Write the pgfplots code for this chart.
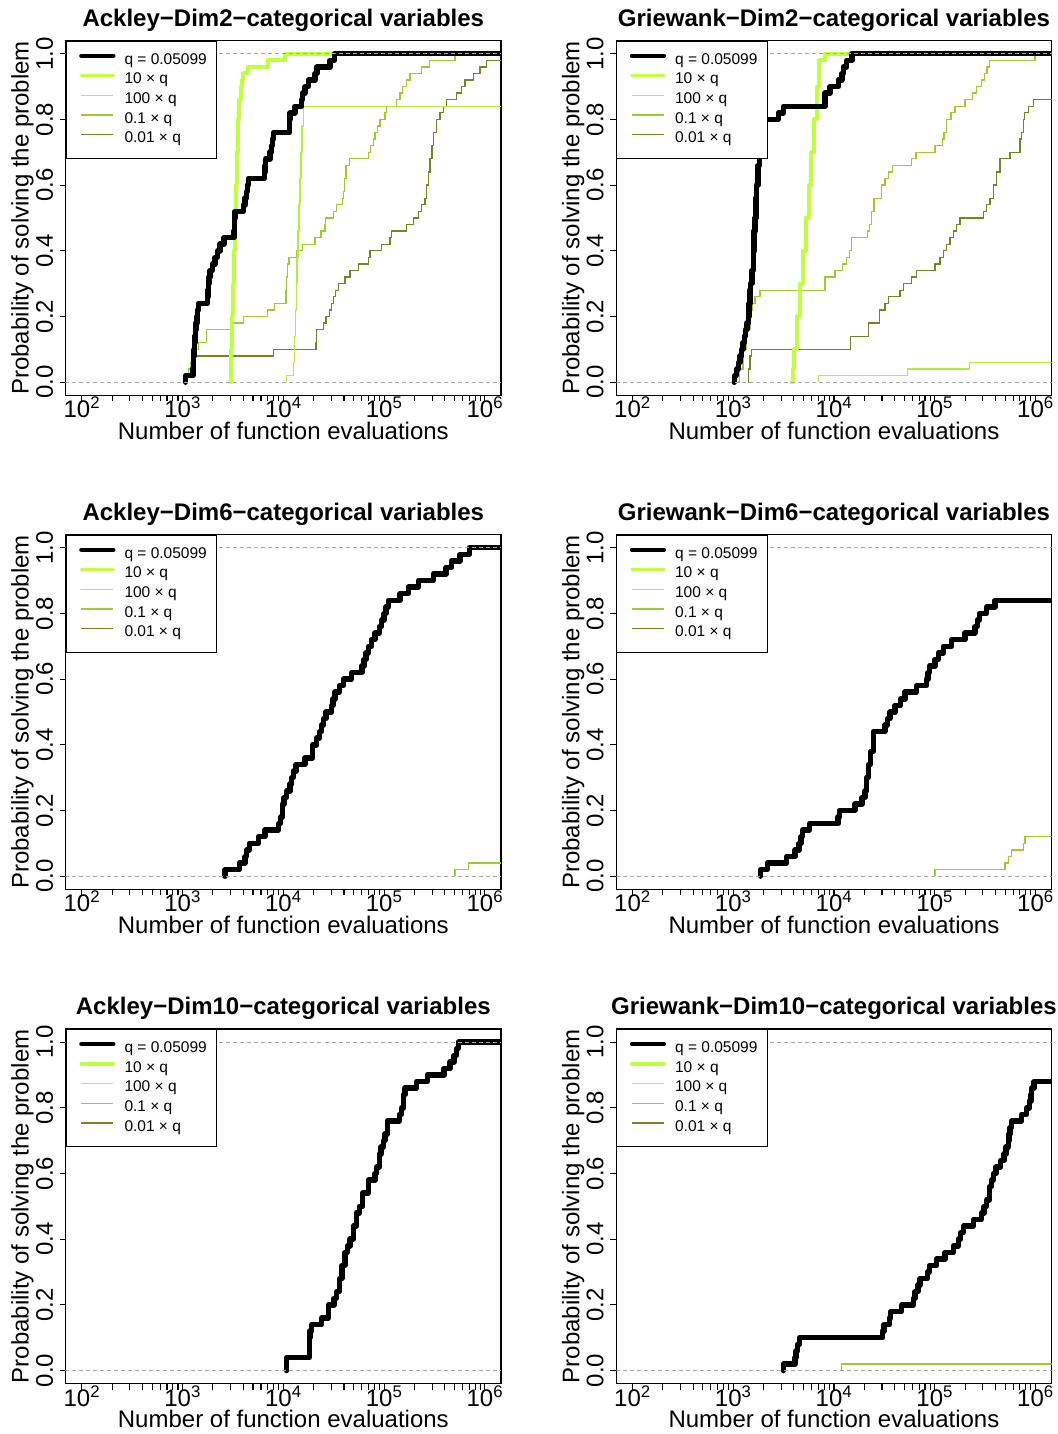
\documentclass[border=0pt]{standalone}
\usepackage{fontspec}
\setmainfont{Liberation Sans}
\usepackage{pgfplots}
\pgfplotsset{compat=1.18}
\definecolor{cA}{HTML}{C0FF3E}
\definecolor{cB}{HTML}{B3EE3A}
\definecolor{cC}{HTML}{9ACD32}
\definecolor{cD}{HTML}{698B22}
\pgfplotsset{
  sQ/.style={black, line width=5.5pt, line cap=round, line join=round, const plot},
  sA/.style={cA, line width=4pt, line cap=round, line join=round, const plot},
  sB/.style={cB, line width=1.3pt, const plot},
  sC/.style={cC, line width=1.3pt, const plot},
  sD/.style={cD, line width=1.3pt, const plot},
  dl/.style={forget plot, black!35, line width=1pt, dash pattern=on 4pt off 3pt},
  legend image code/.code={\draw[#1] (3pt,4.5pt) -- (35pt,4.5pt); \path (0pt,0pt) (44pt,0pt);},
  every axis/.append style={
    scale only axis, width=435.3pt, height=354.7pt,
    xmode=log, xmin=69.18, xmax=1445440, ymin=-0.04, ymax=1.04,
    axis line style={line width=1.1pt, black},
    every tick/.style={black, line width=1.1pt},
    tick align=outside, major tick length=6pt, minor tick length=6pt,
    xtick pos=bottom, ytick pos=left,
    xtick={100,1000,10000,100000,1000000},
    xticklabels={10\textsuperscript{2},10\textsuperscript{3},10\textsuperscript{4},10\textsuperscript{5},10\textsuperscript{6}},
    minor xtick={200,300,400,500,600,700,800,900,2000,3000,4000,5000,6000,7000,8000,9000,20000,30000,40000,50000,60000,70000,80000,90000,200000,300000,400000,500000,600000,700000,800000,900000},
    ytick={0,0.2,0.4,0.6,0.8,1},
    yticklabels={0.0,0.2,0.4,0.6,0.8,1.0},
    tick label style={font=\fontsize{24}{28}\selectfont},
    xticklabel style={anchor=base, inner sep=0pt},
    xticklabel shift=16.7pt,
    yticklabel style={rotate=90, anchor=south, inner sep=0pt},
    yticklabel shift=6.4pt,
    xlabel={Number of function evaluations},
    ylabel={Probability of solving the problem},
    legend cell align=left,
    legend style={at={(0,1)}, anchor=north west, draw=black, line width=1pt, fill=white,
      font=\fontsize{15.5}{18}\selectfont, inner xsep=10pt, inner ysep=12pt, row sep=5.2pt,
      nodes={inner sep=0pt, text height=11pt, text depth=3.5pt}},
  },
  every axis x label/.style={at={(axis description cs:0.5,0)}, yshift=-35.5pt, anchor=center, font=\fontsize{24}{28}\selectfont},
  every axis y label/.style={at={(axis description cs:0,0.5)}, xshift=-43.2pt, rotate=90, anchor=center, font=\fontsize{24}{28}\selectfont},
  every axis title/.style={at={(axis description cs:0.5,1)}, yshift=14pt, anchor=base, font=\bfseries\fontsize{24}{28}\selectfont},
}
\newcommand{\mylegend}{%
  \addlegendimage{black, line width=4.3pt, line cap=round}\addlegendentry{q = 0.05099}
  \addlegendimage{cA, line width=3.7pt, line cap=round}\addlegendentry{10 × q}
  \addlegendimage{cB, line width=1.3pt}\addlegendentry{100 × q}
  \addlegendimage{cC, line width=1.3pt}\addlegendentry{0.1 × q}
  \addlegendimage{cD, line width=1.3pt}\addlegendentry{0.01 × q}
}
\newcommand{\refl}{%
  \addplot[dl] coordinates {(50,0) (3e6,0)};
  \addplot[dl] coordinates {(50,1) (3e6,1)};
}
\begin{document}
\begin{tikzpicture}
\path[use as bounding box] (0,0) rectangle (1057pt,1434pt);

% ---------- Panel 1: Ackley Dim2
\begin{axis}[at={(65.7pt,1038.7pt)}, anchor=south west, title={Ackley−Dim2−categorical variables}]
\mylegend
\addplot[forget plot, sD] coordinates {(1100,0)(1100,0.02)(1200,0.04)(1280,0.06)(1330,0.08)(7950,0.10)(21100,0.12)(21440,0.16)(24950,0.18)(26500,0.20)(28600,0.22)(30000,0.24)(31300,0.26)(33000,0.28)(35100,0.30)(40900,0.32)(45900,0.34)(55500,0.36)(69700,0.38)(72400,0.40)(94600,0.42)(114500,0.44)(119000,0.46)(167500,0.48)(195000,0.50)(218500,0.52)(236000,0.54)(254700,0.56)(265000,0.60)(275000,0.64)(286000,0.68)(298000,0.72)(308000,0.76)(333000,0.80)(359000,0.82)(387000,0.84)(418000,0.86)(526000,0.88)(590000,0.90)(636000,0.92)(768000,0.94)(895000,0.96)(1042000,0.98)(3e6,0.98)};
\addplot[forget plot, sC] coordinates {(1097,0)(1097,0.02)(1150,0.04)(1200,0.06)(1278,0.08)(1350,0.10)(1432,0.12)(1734,0.16)(3069,0.18)(4006,0.20)(6987,0.22)(8132,0.24)(10620,0.28)(10800,0.32)(11000,0.36)(11380,0.38)(13550,0.40)(15540,0.42)(20590,0.44)(23620,0.46)(25880,0.48)(26300,0.50)(31330,0.52)(33810,0.54)(38750,0.56)(39380,0.58)(40500,0.62)(41860,0.66)(45150,0.68)(69740,0.70)(73530,0.72)(78100,0.74)(81100,0.76)(86000,0.78)(90980,0.80)(102000,0.82)(106000,0.84)(133100,0.86)(143600,0.88)(152700,0.90)(167200,0.92)(180600,0.94)(235700,0.96)(280500,0.98)(504700,1.0)(3e6,1.0)};
\addplot[forget plot, sB] coordinates {(10790,0)(10790,0.02)(12560,0.06)(12900,0.14)(13200,0.22)(13450,0.30)(13700,0.38)(14000,0.46)(14300,0.54)(14600,0.62)(14950,0.70)(15350,0.78)(15780,0.84)(3e6,0.84)};
\addplot[forget plot, sA] coordinates {(2953,0)(3025,0.1)(3100,0.2)(3180,0.3)(3240,0.4)(3311,0.5)(3390,0.6)(3480,0.7)(3574,0.8)(3660,0.86)(3768,0.9)(3880,0.92)(4006,0.94)(4487,0.96)(7000,0.98)(10376,1.0)(3e6,1.0)};
\addplot[forget plot, sQ] coordinates {(1074,0)(1074,0.02)(1270,0.04)(1280,0.06)(1290,0.08)(1300,0.10)(1315,0.12)(1330,0.14)(1345,0.16)(1365,0.18)(1385,0.20)(1405,0.22)(1432,0.24)(1765,0.26)(1780,0.28)(1799,0.30)(1830,0.32)(1871,0.34)(1972,0.36)(2099,0.38)(2213,0.40)(2351,0.42)(2576,0.44)(3236,0.46)(3260,0.48)(3285,0.50)(3311,0.52)(4006,0.54)(4169,0.56)(4327,0.58)(4400,0.60)(4487,0.62)(6471,0.64)(6580,0.66)(6683,0.68)(7375,0.70)(7663,0.72)(7800,0.74)(7951,0.76)(11446,0.78)(11540,0.80)(11641,0.82)(13053,0.84)(15205,0.86)(15564,0.88)(16433,0.90)(17738,0.92)(20616,0.94)(21461,0.96)(29030,0.98)(32030,1.0)(3e6,1.0)};
\refl
\end{axis}

% ---------- Panel 2: Griewank Dim2
\begin{axis}[at={(616.3pt,1038.7pt)}, anchor=south west, title={Griewank−Dim2−categorical variables}]
\mylegend
\addplot[forget plot, sD] coordinates {(1400,0)(1413,0.04)(1470,0.08)(1520,0.10)(14650,0.14)(21930,0.18)(28180,0.22)(32130,0.24)(34660,0.26)(45290,0.28)(48890,0.30)(59130,0.32)(66270,0.34)(100600,0.36)(112800,0.38)(121700,0.40)(131500,0.42)(141900,0.44)(153100,0.46)(165400,0.48)(178600,0.50)(304100,0.52)(328300,0.54)(354300,0.56)(382400,0.60)(410000,0.64)(444900,0.68)(558700,0.70)(703100,0.74)(729900,0.76)(758100,0.80)(780000,0.82)(850500,0.84)(953900,0.86)(3e6,0.86)};
\addplot[forget plot, sC] coordinates {(1125,0)(1150,0.04)(1250,0.10)(1350,0.16)(1468,0.22)(1550,0.24)(1645,0.26)(1845,0.28)(8170,0.32)(10260,0.34)(12220,0.36)(13390,0.38)(14200,0.40)(15020,0.44)(21490,0.46)(22500,0.48)(23500,0.52)(25020,0.56)(29790,0.60)(32150,0.62)(35000,0.64)(38360,0.66)(59160,0.68)(65330,0.70)(100900,0.72)(119400,0.74)(124000,0.76)(131800,0.80)(145000,0.82)(159400,0.84)(200300,0.86)(238600,0.88)(261300,0.90)(293000,0.92)(311800,0.94)(330000,0.96)(349400,0.98)(990800,1.0)(3e6,1.0)};
\addplot[forget plot, sB] coordinates {(6998,0)(6998,0.02)(53460,0.04)(220300,0.06)(3e6,0.06)};
\addplot[forget plot, sA] coordinates {(3805,0)(3900,0.04)(4055,0.10)(4325,0.20)(4613,0.30)(4920,0.40)(5248,0.50)(5598,0.60)(5971,0.70)(6368,0.80)(6792,0.90)(7161,0.98)(8170,1.0)(3e6,1.0)};
\addplot[forget plot, sQ] coordinates {(1026,0)(1030,0.02)(1080,0.04)(1125,0.06)(1170,0.08)(1214,0.10)(1250,0.12)(1290,0.14)(1330,0.16)(1370,0.18)(1413,0.20)(1440,0.24)(1470,0.28)(1490,0.30)(1530,0.34)(1585,0.40)(1615,0.46)(1645,0.50)(1680,0.56)(1710,0.60)(1760,0.66)(1817,0.70)(1860,0.74)(1918,0.76)(1980,0.78)(2050,0.80)(2808,0.82)(3150,0.84)(8170,0.88)(9160,0.90)(11070,0.92)(11950,0.94)(12410,0.96)(13390,0.98)(15020,1.0)(3e6,1.0)};
\refl
\end{axis}

% ---------- Panel 3: Ackley Dim6
\begin{axis}[at={(65.7pt,544.7pt)}, anchor=south west, title={Ackley−Dim6−categorical variables}]
\mylegend
\addplot[forget plot, sC] coordinates {(505800,0)(505800,0.02)(685900,0.04)(3e6,0.04)};
\addplot[forget plot, sQ] coordinates {(2636,0)(2636,0.02)(3656,0.04)(4168,0.06)(4327,0.08)(4592,0.10)(5640,0.12)(6572,0.14)(8906,0.16)(9400,0.18)(9855,0.22)(10170,0.24)(10800,0.26)(11650,0.28)(12100,0.30)(12570,0.32)(13360,0.34)(16410,0.36)(19550,0.40)(21420,0.42)(22750,0.44)(24040,0.46)(24960,0.48)(26520,0.50)(30170,0.52)(31000,0.54)(32580,0.56)(36000,0.58)(39430,0.60)(47690,0.62)(60000,0.64)(63140,0.66)(66000,0.68)(69700,0.70)(75000,0.72)(81200,0.74)(90000,0.76)(94600,0.78)(99800,0.80)(104400,0.82)(110200,0.84)(143900,0.86)(173900,0.88)(218500,0.90)(307500,0.92)(411500,0.94)(468500,0.96)(566000,0.98)(701000,1.0)(3e6,1.0)};
\refl
\end{axis}

% ---------- Panel 4: Griewank Dim6
\begin{axis}[at={(616.3pt,544.7pt)}, anchor=south west, title={Griewank−Dim6−categorical variables}]
\mylegend
\addplot[forget plot, sC] coordinates {(100600,0)(100600,0.02)(498800,0.04)(538500,0.06)(581000,0.08)(758100,0.10)(787300,0.12)(3e6,0.12)};
\addplot[forget plot, sQ] coordinates {(1875,0)(1875,0.02)(2181,0.04)(3397,0.06)(4105,0.08)(4500,0.10)(4700,0.12)(4890,0.14)(5698,0.16)(11000,0.18)(11300,0.20)(16170,0.22)(19000,0.24)(20330,0.26)(21000,0.30)(21930,0.34)(23000,0.38)(24570,0.44)(32120,0.46)(33860,0.48)(35990,0.50)(40360,0.52)(46000,0.54)(50720,0.56)(66260,0.58)(83240,0.60)(86000,0.62)(88390,0.64)(100600,0.66)(108600,0.68)(121700,0.70)(147500,0.72)(199900,0.74)(251300,0.76)(265000,0.78)(277400,0.80)(328300,0.82)(396500,0.84)(3e6,0.84)};
\refl
\end{axis}

% ---------- Panel 5: Ackley Dim10
\begin{axis}[at={(65.7pt,50.3pt)}, anchor=south west, title={Ackley−Dim10−categorical variables}]
\mylegend
\addplot[forget plot, sQ] coordinates {(10790,0)(10790,0.04)(18120,0.10)(18420,0.12)(19120,0.14)(24040,0.16)(27940,0.20)(31820,0.22)(33850,0.24)(35920,0.28)(38000,0.32)(40920,0.36)(43150,0.38)(45900,0.40)(49450,0.44)(53000,0.48)(56760,0.50)(61350,0.54)(69700,0.58)(81200,0.60)(84400,0.62)(90000,0.66)(93100,0.68)(98200,0.70)(102000,0.72)(107700,0.76)(141600,0.78)(149600,0.80)(155300,0.84)(161500,0.86)(210700,0.88)(268800,0.90)(393500,0.92)(451000,0.94)(494500,0.96)(525200,0.98)(545300,1.0)(3e6,1.0)};
\refl
\end{axis}

% ---------- Panel 6: Griewank Dim10
\begin{axis}[at={(616.3pt,50.3pt)}, anchor=south west, title={Griewank−Dim10−categorical variables}]
\mylegend
\addplot[forget plot, sC] coordinates {(11940,0)(11940,0.02)(3e6,0.02)};
\addplot[forget plot, sQ] coordinates {(3141,0)(3141,0.02)(4105,0.04)(4199,0.06)(4327,0.08)(4530,0.10)(30480,0.12)(31410,0.14)(35460,0.16)(36570,0.18)(47030,0.20)(61360,0.22)(63810,0.24)(68000,0.26)(71500,0.28)(84500,0.30)(88500,0.32)(104700,0.34)(126600,0.36)(153100,0.38)(171700,0.40)(181200,0.42)(192400,0.44)(241800,0.46)(290000,0.48)(309100,0.50)(328300,0.52)(350000,0.56)(368100,0.58)(382100,0.60)(406400,0.62)(452000,0.64)(487600,0.66)(510000,0.68)(538500,0.70)(548000,0.72)(558700,0.74)(580000,0.76)(729900,0.78)(817000,0.80)(868500,0.82)(900000,0.84)(916000,0.86)(967000,0.88)(3e6,0.88)};
\refl
\end{axis}
\end{tikzpicture}
\end{document}
